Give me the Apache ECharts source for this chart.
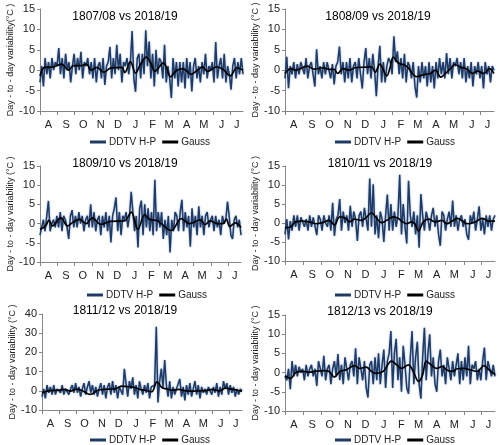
<!DOCTYPE html>
<html>
<head>
<meta charset="utf-8">
<script src="https://cdn.jsdelivr.net/npm/echarts@6/dist/echarts.min.js"></script>
<style>
  html, body { margin: 0; padding: 0; background: #fff; }
  #chart { width: 500px; height: 445px; }
</style>
</head>
<body>
<div id="chart"></div>
<script>
// months Aug..Jul, days per month (last month cut short)
const months = ['A', 'S', 'O', 'N', 'D', 'J', 'F', 'M', 'A', 'M', 'J', 'J'];
const monthDays = [31, 30, 31, 30, 31, 31, 28, 31, 30, 31, 30, 24];

const titles = ['1807/08 vs 2018/19', '1808/09 vs 2018/19', '1809/10 vs 2018/19',
                '1810/11 vs 2018/19', '1811/12 vs 2018/19', '1812/13 vs 2018/19'];

// DDTV H-P, one value every 3 days
const STEP = 3;
const ddtv1 = [
  -3, 1, -4, 3, -1, 2, -2, 3, 0, 2,
  1, 5.4, -1, 3, -2, 4, 0, 2, -3, 1,
  4, -1, 3, 0, 4.5, -2, 2, 1, 3, -1,
  2, -2, 3, -3, 1, 2, -2, 3, -3.6, 1,
  2, 5.7, -2, 3, -1, 6.2, 0, 4, -3, 2,
  1, 3, -1, 2, 9.6, -2, -5.3, 3, 4, -2,
  4, -1, 9.8, 1, 7, -2, 4, -4, 5, -1,
  3, 2, -2, 6.2, -3, 1, -2, -6.8, 3, -2,
  2, -4, 2, -3, 2, -4.5, 3, -2, 2, -5.2,
  1, 3, -2, 1, -3, 2, -1, 4, -2, 1,
  0, 2, -3, 6.9, -2, 1, 3, -2, 4, -3,
  1, -1, -4.8, 1, 3, -2, 2, -1, 3, -1
];
const ddtv2 = [
  -2, 3.3, -4.4, 1, -1, 2, -2, 1.5, -1, 2,
  2, -1, 3, -2, 1, 2, -1, -4, 5.1, -1,
  1, -2, 2, -1, 2, 0, -2, 1.5, -3.5, 1,
  2, 5.8, -1, 2, -3, 2, -2, 3, -3, 1,
  2, -2, 3, -1, -4.5, 2, 5.4, -1, 3, -2,
  4, 0, -6.4, 1, 6, -3, 2, -3, 1, 3,
  2, -1, 8.3, 2, 4.6, -1, 3, -2, 4, -3,
  2, 1, -2, 2, -4, -6.7, 1, -3, 2, -2,
  1, -4, 2, -3, 1, -4.5, 2, -2, 3, -1,
  2, -2, 4.2, -1, 3, -2, 2, 1, 3, -1,
  2, -2, 3, -3, 1, -2, 2, -4, 1, -1,
  2, -2, 1, -4.5, 2, -1, 1, -3, 1, 0
];
const ddtv3 = [
  -3, -1, 1, -2, 2, 5.9, -2, 0, 1, -1,
  2, -1, 3, -2, 2, 1, -1, -4, 2, 3.5,
  -1, 2, -1, 3, 0, 2, -2, 1, 2, -1,
  5.0, -1, 3, -2, 1, 2, -3, 2, -1, 3,
  -2, 2, -4.9, 2, 4, 6.8, -2, 3, -3, 2,
  1, 3, -1, 2, 8.3, 3, -2, 2, -6.2, 4,
  6, -3, 5, -1, 4, -2, 3, -3, 11.4, -2,
  3, -1, 3, -4, 1, -3, 2, -7.5, 1, -2,
  3, 2, -2, 3, 6.2, -2, 3, -1, 2, -6,
  4, -1, 2, -3, 4.5, -1, 2, -3, 2, 3,
  -1, 1, 2, -2, 2, -1, 1, -3, 2, 0,
  1, 5.7, 2, -3, -4, 1, 2, -1, 1, -3
];
const ddtv4 = [
  -3, 1, -4.3, 0.5, -2, 2, -1, 2, -2, 1.5,
  2, -1, 1, -2, 2, -1, 1.5, 1, -3.2, 2,
  1, -2, 2, 0, -1, 2, -2, 5.3, -3.4, 1,
  2, 6.3, -2, 3, 0, 2, -2, 4.5, -1, 3,
  1, -4.7, 2, 3, -1, 4, 1, -2, 11.7, -1,
  10.2, -3, 2, -4, 3, 1, -5, 2, 7.5, -2,
  5, -2, 3, -1, 2, 12.7, -3, 5, -1, -5.4,
  11.1, 2, -1, 3, -3, 2, -6.5, 7.6, 2, -2,
  3, 1, -2, 2, 4, -1, 2, -3, -6, 3,
  2, -2, 1, 3, -1, 5.9, -1, 2, -2, 1,
  2, -1, 1, -3, -4.4, 2, 0, 3, -2, 1,
  4.4, -2, 1, -3, 2, -1, 2, -2, 1, 2
];
const ddtv5 = [
  -3, 1, -4, 3, -1, 2, -2, 3, -2, 1,
  2, -1, 3, -2, 1, 2, -2, 1, 3, -1,
  4, -1, 2, -3, 1, 4, -2, 2, 5, -1,
  3, -2, 2, -3, 1, 4, -2, 3, -4, 2,
  4, -2, 5, -1, 3, -4, 2, 3, -2, 11.5,
  4, -3, 5, 1, 7, -2, 3, -4, 5, 1,
  -2, 3, -1, 4, -4, 2, 1, 3, 33.4, -6.1,
  5, 11.5, 2, 16, 3, -3, 5, -4, 2, -2,
  1, 2, 6.1, -3, 2, -5, 3, -2, 4, -3,
  1, 5, -2, 3, -4, 2, -1, 1, -2, 2,
  3, -2, 2, -1, 4, -3, 2, -2, 5, 1,
  4, -2, 3, -1, 2, -3, 1, -2, 1, 0
];
const ddtv6 = [
  -1, -2, 1, -4.3, 3, -1, 2, -1, 1.5, 0,
  1, -2, 2, -1, 1, 2, -1, 1, -3.5, 3,
  1, -1, 4.4, -2, 1, 2, -3, 1, 3, -1,
  4.8, -2, 2, -3, 4, 1, -2, 2, 3, -1,
  6.3, -3, 4, 1, -2, 3, -4, -6.5, 2, 3,
  -3, 4, -2, 5, -3, 2, 6, -4, 3, 5,
  10.8, -4, 5, 8.8, -2, 4, -5, 7, 2, -4,
  -5.5, 4, 10.8, -3, 4, 8, -3, -6.8, 4, 11.7,
  -2, 5, 10, -1, 4, -3, -5, 3, 6, -1,
  2, -3, 4, 1, -2, 3, -1, 2, 5, -3,
  3, -2, 4, -1, 7, -3, 2, 1, 3, -2,
  1, -2, 3, 6.5, -2, 3, 1, -1, 2, -1
];

// Gauss smoothed curve, [day, value]
const gauss1 = [[0,-1.4],[8,0.7],[23,0.8],[38,1.5],[50,0],[59,1.1],[73,1.1],[82,1.5],[90,0],[100,0.7],[112,-0.5],[124,0.5],[144,0.7],[149,-0.6],[159,2.1],[168,-0.7],[177,1.5],[187,3.2],[195,1.7],[202,-0.3],[217,1.8],[230,-1.6],[239,-0.2],[251,0.4],[266,-1.0],[275,-0.2],[286,0.8],[295,-0.3],[310,0.8],[322,0.2],[335,-1.4],[346,0.6],[357,0]];
const gauss2 = [[0,-0.8],[10,0.4],[18,0],[38,1.0],[50,0.25],[64,0.6],[76,0.2],[84,0.2],[90,-0.8],[99,0.4],[110,0],[119,0.6],[139,0.75],[148,0.8],[154,-0.5],[162,1.5],[174,-1.4],[179,0.4],[185,3.2],[194,1.7],[202,1.4],[209,0.8],[225,-1.6],[237,-1.1],[248,-0.8],[257,0],[266,-1.7],[277,-0.4],[283,0.4],[290,1.4],[300,0.75],[311,0.25],[320,-0.8],[329,-0.25],[340,-0.8],[349,0.4],[357,-0.8]];
const gauss3 = [[0,-1.5],[10,-0.6],[16,0.9],[22,-0.6],[37,1.5],[49,-0.6],[58,0.3],[70,1.1],[82,0.0],[93,1.5],[108,-0.2],[125,0.6],[150,0.7],[162,3.0],[174,-1.5],[186,2.3],[196,1.0],[208,0.8],[215,0],[233,-1.8],[251,1.3],[265,0],[285,1.0],[293,-0.3],[302,0.7],[315,0],[325,0],[331,1.2],[337,-0.8],[347,0.2],[357,-1.0]];
const gauss4 = [[0,-1.3],[10,-1.0],[18,0.3],[30,0.5],[41,0.3],[53,-0.2],[64,0.1],[75,0.7],[84,-0.5],[93,1.6],[104,1.2],[110,0.3],[118,1.0],[130,0.7],[138,1.4],[147,2.7],[155,1.4],[164,0.1],[173,0.7],[184,1.6],[193,1.2],[198,0.5],[207,-0.2],[215,0.3],[221,-0.3],[227,-2.1],[235,0.3],[244,1.0],[255,0.3],[267,0.7],[275,-0.2],[284,0.5],[293,1.2],[302,0.5],[310,-0.2],[324,0.3],[335,1.2],[347,0.5],[357,0.5]];
const gauss5 = [[0,-1],[11,0],[29,0.3],[41,0.7],[50,-0.2],[62,0.9],[72,0],[86,-1.9],[100,0.3],[118,0.9],[130,1.0],[143,2.4],[155,2.1],[166,1.7],[175,0.7],[184,0.3],[196,-0.5],[205,4.7],[214,1.7],[223,1.0],[232,0.3],[244,0.7],[256,0],[268,-0.2],[280,0],[292,0.1],[304,0.7],[316,0],[328,1.4],[337,1.0],[349,0.3],[357,-0.3]];
const gauss6 = [[0,-0.8],[10,-1.5],[18,0],[30,0.3],[41,0.1],[53,0.4],[67,0.5],[75,0.3],[84,-1.2],[93,0.3],[104,0.7],[118,1.8],[127,1.1],[138,1.4],[147,0.3],[155,-0.2],[167,0.3],[181,3.0],[190,2.0],[198,1.1],[210,2.0],[218,0.3],[227,-2.3],[234,-0.6],[240,3.0],[250,1.8],[258,1.1],[267,1.6],[275,0.7],[284,0.3],[293,1.0],[304,1.1],[315,0.7],[327,0.3],[338,1.8],[347,0.7],[357,-0.5]];

const ddtvAll = [ddtv1, ddtv2, ddtv3, ddtv4, ddtv5, ddtv6];
const gaussAll = [gauss1, gauss2, gauss3, gauss4, gauss5, gauss6];

// y ranges
const yMin = [-10, -10, -10, -10, -10, -10];
const yMax = [15, 15, 15, 15, 40, 15];
const yStep = [5, 5, 5, 5, 10, 5];

// day categories + tick / label positions
let dayCats = [];
let tickIdx = [];
let labelIdx = [];
let d = 0;
monthDays.forEach((n, m) => {
    tickIdx.push(d);
    labelIdx.push(d + Math.floor(n / 2));
    for (let k = 0; k < n; k++) dayCats.push(months[m]);
    d += n;
});

const FONT = 'Liberation Sans';

// panel layout
const grids = [
    { left: 40, top: 9, width: 203, height: 102 },
    { left: 285, top: 9, width: 209, height: 102 },
    { left: 40, top: 166, width: 201, height: 96 },
    { left: 285, top: 166, width: 210, height: 95 },
    { left: 42, top: 314, width: 200, height: 96 },
    { left: 285, top: 315, width: 210, height: 96 },
];
const titlePos = [[120, 6], [373, 6], [120, 153], [375, 153], [120, 300], [375, 301]];
const legendPos = [[85, 132], [330, 132], [82, 285], [330, 285], [85, 430], [330, 430]];

let option = {
    animation: false,
    backgroundColor: '#fff',
    textStyle: { fontFamily: FONT },
    title: [],
    legend: [],
    grid: [],
    xAxis: [],
    yAxis: [],
    series: []
};

for (let p = 0; p < 6; p++) {
    option.grid.push(grids[p]);
    option.title.push({
        text: titles[p],
        left: titlePos[p][0],
        top: titlePos[p][1],
        textAlign: 'center',
        textStyle: { fontSize: 12, fontWeight: 'normal', color: '#000', fontFamily: FONT }
    });
    option.legend.push({
        left: legendPos[p][0],
        top: legendPos[p][1],
        data: ['DDTV H-P', 'Gauss'],
        icon: 'rect',
        itemWidth: 16,
        itemHeight: 3,
        itemGap: 6,
        textStyle: { fontSize: 10, color: '#222', fontFamily: FONT, padding: [0, 0, 0, -2] }
    });
    option.xAxis.push({
        type: 'category',
        gridIndex: p,
        data: dayCats,
        boundaryGap: false,
        axisLine: { onZero: false, lineStyle: { color: '#868686' } },
        axisTick: { show: true, length: 4, interval: (i) => tickIdx.includes(i), lineStyle: { color: '#868686' } },
        axisLabel: { interval: (i) => labelIdx.includes(i), margin: 8, fontSize: 11, color: '#222', fontFamily: FONT },
        splitLine: { show: false }
    });
    option.yAxis.push({
        type: 'value',
        gridIndex: p,
        min: yMin[p],
        max: yMax[p],
        interval: yStep[p],
        name: p === 0 ? 'Day - to - day variability(°C )' : 'Day - to - day variability (°C )',
        nameLocation: 'middle',
        nameGap: 25,
        nameTextStyle: { fontSize: 9, color: '#222', fontFamily: FONT },
        axisLine: { show: true, lineStyle: { color: '#868686' } },
        axisTick: { show: true, length: 3, lineStyle: { color: '#868686' } },
        axisLabel: { fontSize: 11, color: '#222', margin: 5, fontFamily: FONT },
        splitLine: { show: false }
    });
    option.series.push({
        name: 'DDTV H-P',
        type: 'line',
        xAxisIndex: p,
        yAxisIndex: p,
        data: ddtvAll[p].map((v, i) => [i * STEP, v]),
        showSymbol: false,
        color: '#1f3a64',
        lineStyle: {
            width: 1.5,
            color: '#1f3a64',
            shadowColor: 'rgba(90, 130, 190, 0.7)',
            shadowBlur: 2
        }
    });
    option.series.push({
        name: 'Gauss',
        type: 'line',
        xAxisIndex: p,
        yAxisIndex: p,
        data: gaussAll[p],
        smooth: 0.35,
        showSymbol: false,
        z: 3,
        color: '#000',
        lineStyle: { width: 1.7, color: '#000' }
    });
}

const chart = echarts.init(document.getElementById('chart'));
chart.setOption(option);
</script>
</body>
</html>
